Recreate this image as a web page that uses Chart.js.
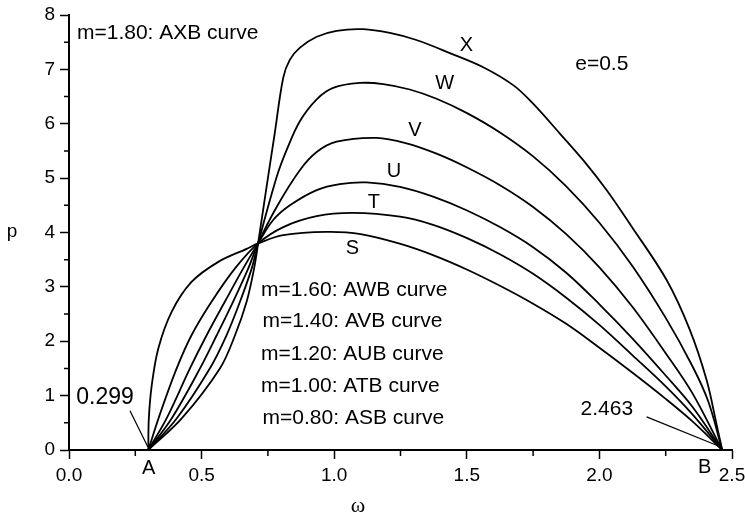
<!DOCTYPE html>
<html><head><meta charset="utf-8">
<script src="https://cdn.jsdelivr.net/npm/chart.js@4/dist/chart.umd.min.js"></script>
<style>html,body{margin:0;padding:0;background:#fff}#c{display:block}</style>
</head><body>
<canvas id="c" width="745" height="524"></canvas>
<script>
// ---- data ----
const xTickValues = [0, 0.5, 1.0, 1.5, 2.0, 2.5];
const xTickLabels = ['0.0', '0.5', '1.0', '1.5', '2.0', '2.5'];
const yTickValues = [0, 1, 2, 3, 4, 5, 6, 7, 8];
const xMinorTicks = [0.25, 0.75, 1.25, 1.75, 2.25];
const yMinorTicks = [0.5, 1.5, 2.5, 3.5, 4.5, 5.5, 6.5, 7.5];

const curveS_x = [0.299, 0.301, 0.312, 0.337, 0.387, 0.462, 0.563, 0.670, 0.713, 0.808, 0.971, 1.100, 1.250, 1.375, 1.500, 1.625, 1.750, 1.875, 2.000, 2.125, 2.250, 2.350, 2.463];
const curveS_y = [0, 0.58, 1.19, 1.87, 2.54, 3.09, 3.46, 3.70, 3.80, 3.95, 4.01, 3.97, 3.79, 3.58, 3.32, 3.02, 2.69, 2.32, 1.88, 1.42, 0.94, 0.53, 0];

const curveT_x = [0.299, 0.343, 0.406, 0.462, 0.538, 0.626, 0.713, 0.808, 0.934, 1.072, 1.248, 1.373, 1.499, 1.625, 1.750, 1.875, 2.000, 2.125, 2.250, 2.350, 2.463];
const curveT_y = [0, 0.66, 1.50, 2.11, 2.73, 3.34, 3.80, 4.10, 4.30, 4.36, 4.29, 4.14, 3.90, 3.60, 3.24, 2.80, 2.30, 1.74, 1.17, 0.66, 0];

const curveU_x = [0.299, 0.368, 0.456, 0.519, 0.588, 0.657, 0.713, 0.770, 0.833, 0.934, 1.021, 1.122, 1.248, 1.373, 1.499, 1.625, 1.750, 1.875, 2.000, 2.125, 2.250, 2.350, 2.463];
const curveU_y = [0, 0.58, 1.50, 2.11, 2.73, 3.34, 3.80, 4.23, 4.50, 4.78, 4.89, 4.92, 4.84, 4.66, 4.41, 4.10, 3.73, 3.26, 2.68, 2.05, 1.37, 0.80, 0];

const curveV_x = [0.299, 0.387, 0.494, 0.557, 0.619, 0.676, 0.713, 0.783, 0.871, 0.934, 1.009, 1.160, 1.273, 1.386, 1.499, 1.625, 1.750, 1.875, 2.000, 2.125, 2.250, 2.350, 2.463];
const curveV_y = [0, 0.58, 1.50, 2.11, 2.73, 3.34, 3.80, 4.47, 5.15, 5.48, 5.67, 5.74, 5.64, 5.45, 5.20, 4.87, 4.47, 3.97, 3.36, 2.63, 1.78, 1.05, 0];

const curveW_x = [0.299, 0.406, 0.531, 0.594, 0.645, 0.689, 0.713, 0.783, 0.820, 0.871, 0.934, 0.996, 1.097, 1.185, 1.285, 1.386, 1.499, 1.625, 1.750, 1.875, 2.000, 2.125, 2.250, 2.350, 2.410, 2.463];
const curveW_y = [0, 0.58, 1.50, 2.11, 2.73, 3.34, 3.80, 5.02, 5.51, 6.05, 6.45, 6.66, 6.75, 6.73, 6.63, 6.46, 6.20, 5.84, 5.40, 4.85, 4.18, 3.38, 2.43, 1.55, 0.90, 0];

const curveX_x = [0.299, 0.425, 0.569, 0.626, 0.670, 0.698, 0.713, 0.745, 0.776, 0.808, 0.833, 0.871, 0.934, 1.009, 1.109, 1.210, 1.310, 1.436, 1.562, 1.675, 1.750, 1.851, 1.939, 2.027, 2.120, 2.253, 2.341, 2.404, 2.441, 2.463];
const curveX_y = [0, 0.58, 1.50, 2.11, 2.73, 3.34, 3.80, 4.84, 5.83, 6.85, 7.18, 7.40, 7.60, 7.71, 7.74, 7.67, 7.54, 7.30, 7.04, 6.71, 6.37, 5.82, 5.33, 4.78, 4.12, 3.13, 2.21, 1.29, 0.49, 0];

const curveLabels = ['S', 'T', 'U', 'V', 'W', 'X'];
const curveLabelX = [1.069, 1.150, 1.225, 1.304, 1.417, 1.499];
const curveLabelY = [3.71, 4.56, 5.12, 5.88, 6.74, 7.44];

const noteTexts = ['m=1.80: AXB curve', 'm=1.60: AWB curve', 'm=1.40: AVB curve', 'm=1.20: AUB curve', 'm=1.00: ATB curve', 'm=0.80: ASB curve'];
const noteX = [0.030, 0.724, 0.730, 0.724, 0.724, 0.730];
const noteY = [7.67, 2.94, 2.37, 1.76, 1.18, 0.59];

// ---- build datasets ----
function pts(xs, ys) { return xs.map((x, i) => ({ x: x, y: ys[i] })); }
const allX = [curveS_x, curveT_x, curveU_x, curveV_x, curveW_x, curveX_x];
const allY = [curveS_y, curveT_y, curveU_y, curveV_y, curveW_y, curveX_y];
const datasets = curveLabels.map((n, i) => ({
  label: n,
  data: pts(allX[i], allY[i]),
  showLine: true,
  borderColor: '#000',
  borderWidth: 1.8,
  pointRadius: 0,
  tension: 0.35,
  fill: false
}));

const FONT = '"Liberation Sans", Arial, sans-serif';

const decor = {
  id: 'decor',
  afterDraw(chart) {
    const ctx = chart.ctx;
    const xs = chart.scales.x, ys = chart.scales.y;
    const ca = chart.chartArea;
    ctx.save();
    ctx.strokeStyle = '#000';
    ctx.fillStyle = '#000';
    // minor ticks
    ctx.lineWidth = 1.5;
    ctx.beginPath();
    xMinorTicks.forEach(v => { const px = xs.getPixelForValue(v); ctx.moveTo(px, ca.bottom); ctx.lineTo(px, ca.bottom + 6); });
    yMinorTicks.forEach(v => { const py = ys.getPixelForValue(v); ctx.moveTo(ca.left, py); ctx.lineTo(ca.left - 5, py); });
    ctx.stroke();

    const text = (t, x, y, size, align, fam) => {
      ctx.font = size + 'px ' + (fam || FONT);
      ctx.textAlign = align || 'center';
      ctx.textBaseline = 'middle';
      ctx.fillText(t, x, y);
    };
    // curve letters
    curveLabels.forEach((n, i) => text(n, xs.getPixelForValue(curveLabelX[i]), ys.getPixelForValue(curveLabelY[i]), 20));
    // notes
    noteTexts.forEach((t, i) => text(t, xs.getPixelForValue(noteX[i]), ys.getPixelForValue(noteY[i]), 21, 'left'));
    text('e=0.5', xs.getPixelForValue(2.009), ys.getPixelForValue(7.10), 21);
    // endpoint annotations
    text('0.299', xs.getPixelForValue(0.136), ys.getPixelForValue(0.96), 23);
    text('2.463', xs.getPixelForValue(2.028), ys.getPixelForValue(0.75), 21);
    ctx.lineWidth = 1.2;
    ctx.beginPath();
    ctx.moveTo(xs.getPixelForValue(0.230), ys.getPixelForValue(0.72));
    ctx.lineTo(xs.getPixelForValue(0.297), ys.getPixelForValue(0.06));
    ctx.moveTo(xs.getPixelForValue(2.178), ys.getPixelForValue(0.61));
    ctx.lineTo(xs.getPixelForValue(2.456), ys.getPixelForValue(0.06));
    ctx.stroke();
    text('A', xs.getPixelForValue(0.300), ca.bottom + 18, 20);
    text('B', xs.getPixelForValue(2.397), ca.bottom + 17, 20);
    // axis titles
    text('p', 12, ys.getPixelForValue(4.01), 19);
    text('\u03c9', xs.getPixelForValue(1.09), ca.bottom + 56, 22, 'center', '"Liberation Serif", "DejaVu Serif", serif');
    ctx.restore();
  }
};

new Chart(document.getElementById('c'), {
  type: 'scatter',
  data: { datasets: datasets },
  plugins: [decor],
  options: {
    responsive: false,
    devicePixelRatio: 1,
    animation: false,
    layout: { padding: { top: 15, right: 13, left: 0, bottom: 0 } },
    plugins: { legend: { display: false }, tooltip: { enabled: false } },
    scales: {
      x: {
        type: 'linear', min: 0, max: 2.5,
        afterBuildTicks: s => { s.ticks = xTickValues.map(v => ({ value: v })); },
        afterFit: s => { s.height = 74; s.paddingLeft = 0; s.paddingRight = 0; },
        ticks: {
          callback: (v) => { const i = xTickValues.indexOf(v); return i >= 0 ? xTickLabels[i] : ''; },
          color: '#000', font: { family: FONT, size: 19 }, padding: 5, maxRotation: 0, autoSkip: false
        },
        grid: { drawOnChartArea: false, drawTicks: true, tickLength: 9, tickColor: '#000', tickWidth: 1.5 },
        border: { display: true, color: '#000', width: 2 }
      },
      y: {
        type: 'linear', min: 0, max: 8,
        afterBuildTicks: s => { s.ticks = yTickValues.map(v => ({ value: v })); },
        afterFit: s => { s.width = 69; s.paddingTop = 0; s.paddingBottom = 0; },
        ticks: { color: '#000', font: { family: FONT, size: 19 }, padding: 5, autoSkip: false },
        grid: { drawOnChartArea: false, drawTicks: true, tickLength: 9, tickColor: '#000', tickWidth: 1.5 },
        border: { display: true, color: '#000', width: 2 }
      }
    }
  }
});
</script>
</body></html>
